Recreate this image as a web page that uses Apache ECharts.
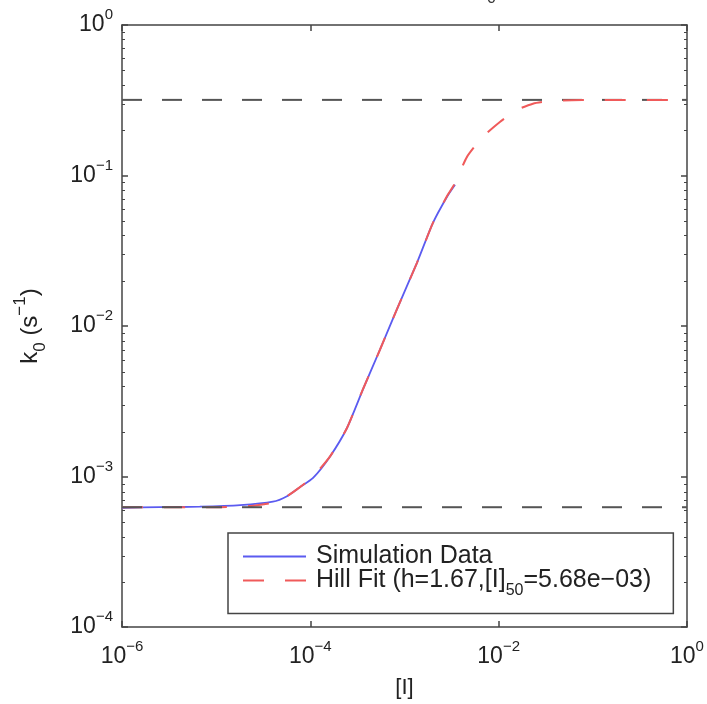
<!DOCTYPE html>
<html><head><meta charset="utf-8">
<script src="https://cdn.jsdelivr.net/npm/echarts@6/dist/echarts.min.js"></script>
<style>html,body{margin:0;padding:0;background:#fff}#c{width:707px;height:704px}</style>
</head><body><div id="c"></div>
<script>
// ---- data ----
const xTickValues = [1e-6, 1e-4, 1e-2, 1];
const yTickValues = [1e-4, 1e-3, 1e-2, 1e-1, 1];
const yMinorTickValues = [
  2e-4,3e-4,4e-4,5e-4,6e-4,7e-4,8e-4,9e-4,
  2e-3,3e-3,4e-3,5e-3,6e-3,7e-3,8e-3,9e-3,
  2e-2,3e-2,4e-2,5e-2,6e-2,7e-2,8e-2,9e-2,
  0.2,0.3,0.4,0.5,0.6,0.7,0.8,0.9
];
const simX = [1e-6, 2.5e-6, 6.7e-6, 1.8e-5, 4.0e-5, 5.65e-5, 7.76e-5, 1.07e-4, 1.62e-4, 2.45e-4, 3.62e-4, 5.5e-4, 8.3e-4, 1.36e-3, 2.01e-3, 2.83e-3, 3.44e-3];
const simY = [6.2e-4, 6.25e-4, 6.3e-4, 6.45e-4, 6.8e-4, 7.4e-4, 8.5e-4, 9.8e-4, 1.36e-3, 2.1e-3, 3.79e-3, 6.98e-3, 1.29e-2, 2.64e-2, 4.86e-2, 7.23e-2, 8.68e-2];
const fitX = [1e-6, 1e-5, 2.5e-5, 4.0e-5, 5.65e-5, 7.76e-5, 1.07e-4, 1.62e-4, 2.45e-4, 3.62e-4, 5.5e-4, 8.3e-4, 1.36e-3, 2.01e-3, 2.83e-3, 3.44e-3, 4.61e-3, 6.81e-3, 1.03e-2, 1.57e-2, 2.31e-2, 3.5e-2, 6e-2, 1e-1, 1];
const fitY = [6.25e-4, 6.25e-4, 6.4e-4, 6.7e-4, 7.4e-4, 8.5e-4, 1.0e-3, 1.36e-3, 2.1e-3, 3.8e-3, 6.98e-3, 1.29e-2, 2.64e-2, 4.86e-2, 7.3e-2, 8.9e-2, 0.133, 0.181, 0.227, 0.273, 0.300, 0.312, 0.316, 0.318, 0.318];
const kMax = 0.318;
const kMin = 6.25e-4;
const refX = [1e-6, 1];
const simName = 'Simulation Data';
const fitName = 'Hill Fit (h=1.67,[I]50=5.68e\u221203)';

// ---- build ----
const FONT = 'Liberation Sans, Arial, Helvetica, sans-serif';
const pairs = (xs, ys) => xs.map((x, i) => [x, ys[i]]);
const expLabel = v => {
  const e = Math.round(Math.log10(v));
  return '{b|10}{s|' + (e < 0 ? '\u2212' + (-e) : e) + '}';
};
const supStyle = {fontSize: 15, fontFamily: FONT, color: '#222', height: 2, lineHeight: 2, verticalAlign: 'top'};
const subStyle = {fontSize: 15, fontFamily: FONT, color: '#222', height: 2, lineHeight: 2, verticalAlign: 'bottom'};
const richPow = {
  b: {fontSize: 23, fontFamily: FONT, color: '#222', lineHeight: 22, verticalAlign: 'middle'},
  s: supStyle
};
const axisLineStyle = {color: '#444', width: 1.5};
const GRID = {left: 122, top: 25, right: 20, bottom: 76};

const chart = echarts.init(document.getElementById('c'), null, {renderer: 'canvas'});
chart.setOption({
  animation: false,
  backgroundColor: '#fff',
  graphic: [{type: 'text', left: 487, top: -9, style: {text: '0', font: '16px ' + FONT, fill: '#333'}}],
  grid: [Object.assign({}, GRID), Object.assign({}, GRID)],
  xAxis: [
    {gridIndex: 0, type: 'log', logBase: 10, min: 1e-6, max: 1, position: 'bottom',
     name: '[I]', nameLocation: 'middle', nameGap: 50,
     nameTextStyle: {fontSize: 22, fontFamily: FONT, color: '#222'},
     axisLine: {show: true, lineStyle: axisLineStyle},
     axisTick: {show: true, inside: true, length: 6, customValues: xTickValues, lineStyle: axisLineStyle},
     axisLabel: {show: true, customValues: xTickValues, margin: 19, formatter: expLabel, rich: richPow},
     splitLine: {show: false}, minorTick: {show: false}},
    {gridIndex: 0, type: 'log', logBase: 10, min: 1e-6, max: 1, position: 'top',
     axisLine: {show: true, lineStyle: axisLineStyle},
     axisTick: {show: true, inside: true, length: 6, customValues: xTickValues, lineStyle: axisLineStyle},
     axisLabel: {show: false}, splitLine: {show: false}},
    {gridIndex: 1, type: 'log', logBase: 10, min: 1e-6, max: 1, show: false}
  ],
  yAxis: [
    {gridIndex: 0, type: 'log', logBase: 10, min: 1e-4, max: 1, position: 'left',
     name: '{t|k}{sub|0}{t| (s}{sup|\u22121}{t|)}', nameLocation: 'middle', nameGap: 81, nameRotate: 90,
     nameTextStyle: {rich: {
       t: {fontSize: 24, fontFamily: FONT, color: '#222', lineHeight: 22, verticalAlign: 'middle'},
       sub: Object.assign({}, subStyle, {fontSize: 17}),
       sup: Object.assign({}, supStyle, {fontSize: 17})
     }},
     axisLine: {show: true, lineStyle: axisLineStyle},
     axisTick: {show: true, inside: true, length: 6, customValues: yTickValues, lineStyle: axisLineStyle},
     axisLabel: {show: true, customValues: yTickValues, margin: 9, formatter: expLabel, rich: richPow},
     splitLine: {show: false}},
    {gridIndex: 0, type: 'log', logBase: 10, min: 1e-4, max: 1, position: 'right',
     axisLine: {show: true, lineStyle: axisLineStyle},
     axisTick: {show: true, inside: true, length: 6, customValues: yTickValues, lineStyle: axisLineStyle},
     axisLabel: {show: false}, splitLine: {show: false}},
    {gridIndex: 1, type: 'log', logBase: 10, min: 1e-4, max: 1, position: 'left',
     axisLine: {show: false},
     axisTick: {show: true, inside: true, length: 3, customValues: yMinorTickValues, lineStyle: {color: '#444', width: 1}},
     axisLabel: {show: false}, splitLine: {show: false}},
    {gridIndex: 1, type: 'log', logBase: 10, min: 1e-4, max: 1, position: 'right',
     axisLine: {show: false},
     axisTick: {show: true, inside: true, length: 3, customValues: yMinorTickValues, lineStyle: {color: '#444', width: 1}},
     axisLabel: {show: false}, splitLine: {show: false}}
  ],
  legend: {
    data: [simName, fitName],
    orient: 'vertical', left: 228, top: 533,
    backgroundColor: '#fff', borderColor: '#444', borderWidth: 1.5, borderRadius: 0,
    padding: [11, 22, 15, 14], itemGap: -1, itemWidth: 63, itemHeight: 14,
    itemStyle: {opacity: 0, borderWidth: 0},
    formatter: function (name) {
      if (name === fitName) return '{t|Hill Fit (h=1.67,[I]}{sub|50}{t|=5.68e\u221203)}';
      return '{t|' + name + '}';
    },
    textStyle: {padding: [0, 0, 0, 5], rich: {
      t: {fontSize: 25, fontFamily: FONT, color: '#222', lineHeight: 22, verticalAlign: 'middle'},
      sub: Object.assign({}, subStyle, {fontSize: 16})
    }}
  },
  series: [
    {name: simName, type: 'line', xAxisIndex: 0, yAxisIndex: 0, data: pairs(simX, simY),
     symbol: 'none', smooth: 0.2, lineStyle: {color: '#5b5bf0', width: 1.8}, itemStyle: {color: '#5b5bf0'}, z: 3},
    {name: fitName, type: 'line', xAxisIndex: 0, yAxisIndex: 0, data: pairs(fitX, fitY),
     symbol: 'none', smooth: 0.2, lineStyle: {color: '#f05a5a', width: 2, type: [21, 21]}, itemStyle: {color: '#f05a5a'}, z: 4},
    {name: 'kmax', type: 'line', xAxisIndex: 0, yAxisIndex: 0, data: pairs(refX, [kMax, kMax]),
     symbol: 'none', lineStyle: {color: '#555', width: 2, type: [20, 20]}, z: 2},
    {name: 'kmin', type: 'line', xAxisIndex: 0, yAxisIndex: 0, data: pairs(refX, [kMin, kMin]),
     symbol: 'none', lineStyle: {color: '#555', width: 2, type: [20, 20]}, z: 5}
  ]
});
</script></body></html>
